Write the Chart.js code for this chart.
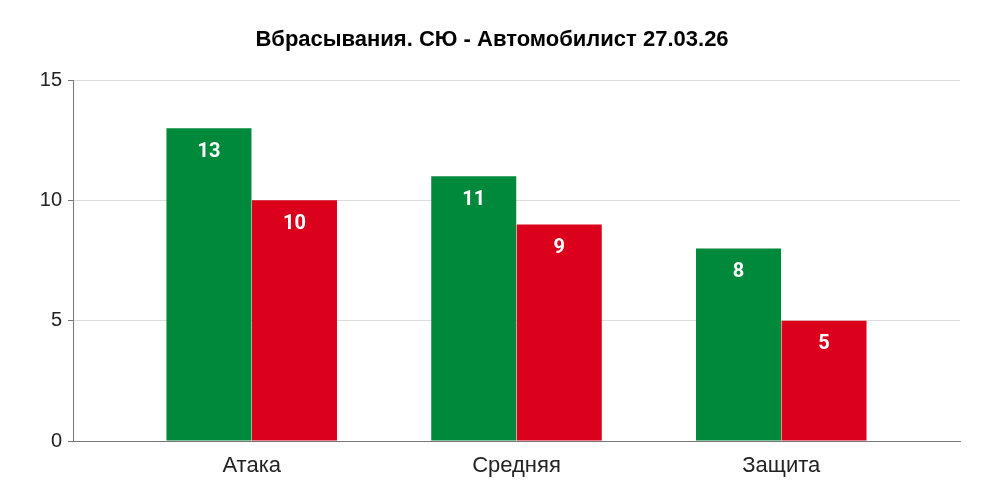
<!DOCTYPE html>
<html><head><meta charset="utf-8">
<script src="https://cdn.jsdelivr.net/npm/chart.js@4/dist/chart.umd.min.js"></script>
<style>html,body{margin:0;padding:0;background:#fff}#wrap{width:984px;height:503px}</style>
</head><body><div id="wrap"><canvas id="c" width="984" height="503"></canvas></div>
<script>
const categories = ['Атака', 'Средняя', 'Защита'];
const seriesGreen = [13, 11, 8];
const seriesRed = [10, 9, 5];
const yTicks = [0, 5, 10, 15];
const titleText = 'Вбрасывания. СЮ - Автомобилист 27.03.26';

const valueLabels = {
  id: 'valueLabels',
  afterDatasetsDraw(chart) {
    const ctx = chart.ctx;
    ctx.save();
    ctx.fillStyle = '#ffffff';
    ctx.font = 'bold 20px Roboto';
    ctx.textAlign = 'center';
    ctx.textBaseline = 'middle';
    chart.data.datasets.forEach((ds, di) => {
      chart.getDatasetMeta(di).data.forEach((bar, i) => {
        ctx.fillText(String(ds.data[i].y), bar.x, bar.y + 23.5);
      });
    });
    ctx.restore();
  }
};

new Chart(document.getElementById('c'), {
  type: 'bar',
  data: {
    datasets: [
      { data: seriesGreen.map((v, i) => ({ x: i, y: v })), backgroundColor: '#01893b' },
      { data: seriesRed.map((v, i) => ({ x: i, y: v })), backgroundColor: '#db001c' }
    ]
  },
  options: {
    responsive: false,
    animation: false,
    categoryPercentage: 0.646,
    barPercentage: 0.994,
    layout: { padding: 0 },
    plugins: {
      legend: { display: false },
      tooltip: { enabled: false },
      title: {
        display: true, text: titleText, color: '#000',
        font: { family: 'Liberation Sans', size: 22, weight: 'bold' },
        padding: { top: 27, bottom: 26.6 }
      }
    },
    scales: {
      x: {
        type: 'linear', min: -0.675, max: 2.675, offset: false, bounds: 'data',
        afterBuildTicks: (s) => { s.ticks = categories.map((_, i) => ({ value: i })); },
        afterFit: (s) => { s.height = 503 - 441; },
        grid: { display: false, drawTicks: false },
        border: { display: true, color: '#777', width: 1 },
        ticks: {
          callback: (v) => categories[v] ?? '',
          color: '#222', font: { family: 'Liberation Sans', size: 22 }, padding: 12,
          maxRotation: 0, autoSkip: false
        }
      },
      y: {
        min: 0, max: 15,
        afterBuildTicks: (s) => { s.ticks = yTicks.map(v => ({ value: v })); },
        afterFit: (s) => { s.width = 73; },
        grid: { color: '#dddddd', tickColor: '#777', tickLength: 5, drawTicks: true },
        border: { display: true, color: '#777', width: 1 },
        ticks: { color: '#222', font: { family: 'Liberation Sans', size: 20 }, padding: 6 }
      },
      ySpacer: {
        position: 'right', min: 0, max: 15,
        afterFit: (s) => { s.width = 24; },
        grid: { display: false, drawTicks: false },
        border: { display: false },
        ticks: { display: false }
      }
    }
  },
  plugins: [valueLabels]
});
</script></body></html>
